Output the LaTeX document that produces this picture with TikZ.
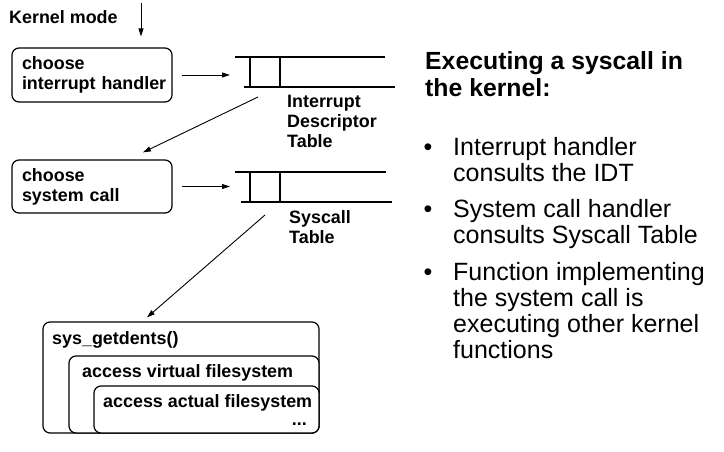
\documentclass[tikz,border=0pt]{standalone}
\usepackage{fontspec}
\setmainfont{Liberation Sans}
\usetikzlibrary{arrows.meta}

\begin{document}
\begin{tikzpicture}[x=1pt,y=-1pt,
  box/.style={draw,line width=1.2pt,rounded corners=7pt,align=left,
    inner xsep=10pt,inner ysep=0pt,font=\fontsize{17.9}{20}\bfseries\selectfont},
  nest/.style={draw,fill=white,line width=1.2pt,rounded corners=7pt,inner sep=0pt},
  lbl/.style={anchor=base west,inner sep=0pt,align=left,
    font=\fontsize{17.9}{20}\bfseries\selectfont},
  tbl/.style={line width=1.2pt},
  arr/.style={-{Triangle[length=8pt,width=5pt]},line width=0.9pt},
  slide/.style={anchor=base west,inner sep=0pt,align=left,
    font=\fontsize{25}{26}\selectfont}]
\useasboundingbox (0,0) rectangle (724,452);

\node[lbl] (kmode) at (9,24) {Kernel mode};
\node[box,minimum width=160pt,minimum height=54pt,text width=140pt] (handler) at (92,75) {choose\\\mbox{interrupt handler}};
\node[box,minimum width=160pt,minimum height=53pt,text width=140pt] (choosesys) at (92,186.5) {choose\\\mbox{system call}};

% interrupt descriptor table
\draw[tbl] (235,57) -- (385,57);
\draw[tbl] (244,87) -- (395,87);
\draw[tbl] (250,57) -- (250,87);
\draw[tbl] (280,57) -- (280,87);
\node[lbl] (idtlbl) at (287,147) {Interrupt\\Descriptor\\Table};

% syscall table
\draw[tbl] (235,172) -- (386,172);
\draw[tbl] (241,202) -- (392,202);
\draw[tbl] (250,172) -- (250,202);
\draw[tbl] (280,172) -- (280,202);
\node[lbl] (sctlbl) at (289,243) {Syscall\\Table};

% nested functions
\node[nest,minimum width=276pt,minimum height=111pt] (getdents) at (181,377.5) {};
\node[nest,minimum width=250pt,minimum height=77pt] (vfs) at (194,394.5) {};
\node[nest,minimum width=225pt,minimum height=47pt] (fs) at (206.5,409.5) {};
\node[lbl] (getdentslbl) at (52,344) {sys\_getdents()};
\node[lbl] (vfslbl) at (82,377) {access virtual filesystem};
\node[lbl] (fslbl) at (103,407) {access actual filesystem};
\node[lbl,anchor=base east] (dots) at (307,425) {...};

% arrows
\coordinate (entry) at (141,3);
\draw[arr,shorten >=11pt] (entry) -- (entry |- handler.north);
\coordinate (idtin) at (230,75);
\draw[arr,shorten <=9pt] (handler.east) -- (idtin);
\coordinate (idtfoot) at (258,97);
\draw[arr] (idtfoot) -- ([xshift=51pt,yshift=7pt]choosesys.north);
\coordinate (sctin) at (230,186.5);
\draw[arr,shorten <=9pt] (choosesys.east) -- (sctin);
\coordinate (sctfoot) at (265,215);
\draw[arr] (sctfoot) -- ([xshift=-34pt,yshift=4pt]getdents.north);

% slide text
\node[slide,font=\fontsize{24.8}{28}\bfseries\selectfont] (title) at (425,97) {Executing a syscall in\\the kernel:};
\node[slide] (dot1) at (423.5,155) {•};
\node[slide] (item1) at (453,181) {Interrupt handler\\consults the IDT};
\node[slide] (dot2) at (423.5,217.5) {•};
\node[slide] (item2) at (453,243) {System call handler\\consults Syscall Table};
\node[slide] (dot3) at (423.5,280) {•};
\node[slide] (item3) at (453,358) {Function implementing\\the system call is\\executing other kernel\\functions};
\end{tikzpicture}
\end{document}
